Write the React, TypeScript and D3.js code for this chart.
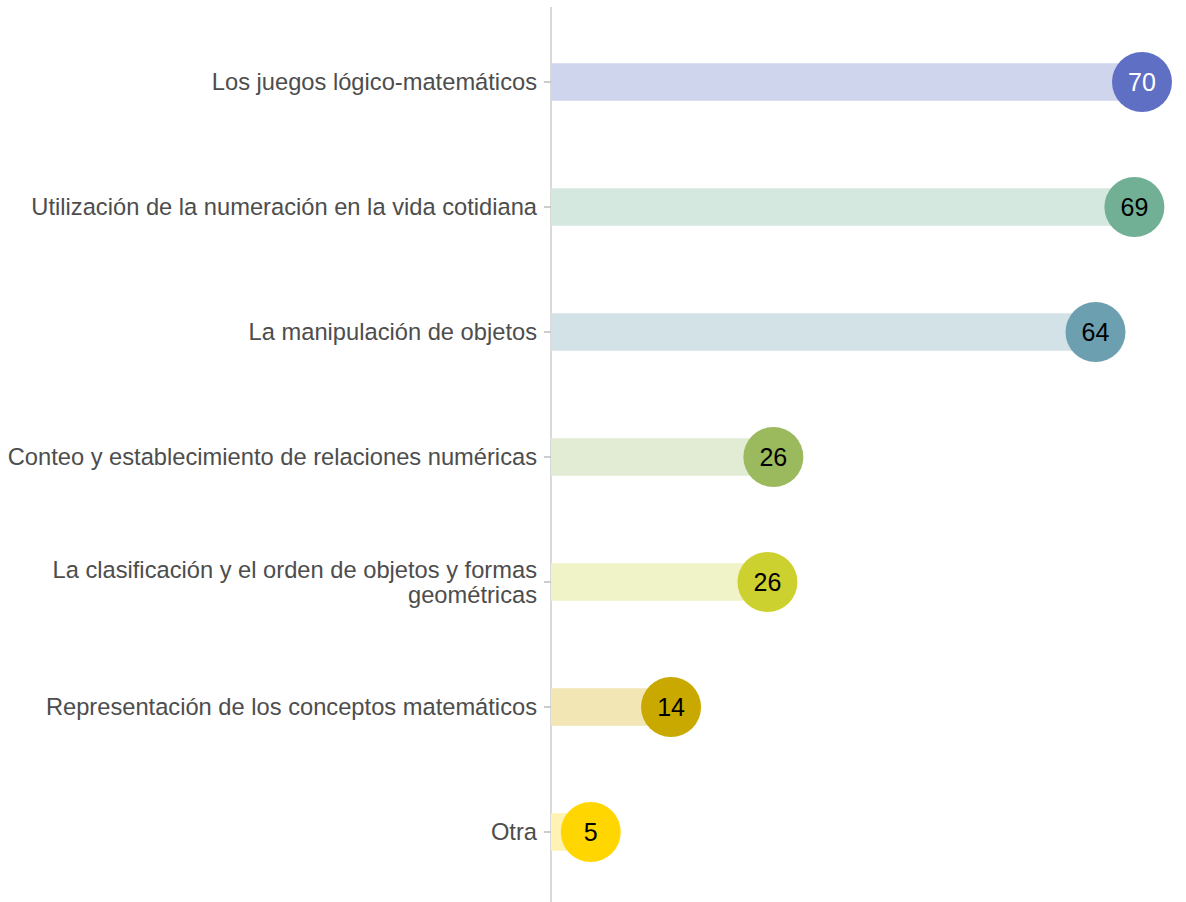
import React from 'react';
import * as d3 from 'd3';

const categories = [
  'Los juegos lógico-matemáticos',
  'Utilización de la numeración en la vida cotidiana',
  'La manipulación de objetos',
  'Conteo y establecimiento de relaciones numéricas',
  'La clasificación y el orden de objetos y formas geométricas',
  'Representación de los conceptos matemáticos',
  'Otra',
];
const values = [69.9, 69.0, 64.4, 26.3, 25.6, 14.2, 4.7];
const dotColors = ['#5f6fc4', '#72b095', '#6c9fb0', '#9bb95d', '#cdd12f', '#c9a800', '#ffd600'];
const barColors = ['#d0d5ee', '#d5e8e0', '#d3e2e7', '#e2ebd3', '#f0f3c8', '#f1e6b4', '#fff3b4'];
const labelColors = ['#ffffff', '#000000', '#000000', '#000000', '#000000', '#000000', '#000000'];
// wrapped category labels
const labelLines = [
  ['Los juegos lógico-matemáticos'],
  ['Utilización de la numeración en la vida cotidiana'],
  ['La manipulación de objetos'],
  ['Conteo y establecimiento de relaciones numéricas'],
  ['La clasificación y el orden de objetos y formas', 'geométricas'],
  ['Representación de los conceptos matemáticos'],
  ['Otra'],
];

const W = 1186;
const H = 902;
const font = '"Liberation Sans", Arial, sans-serif';

export default function App() {
  const x = d3.scaleLinear().domain([0, 70]).range([551, 551 + 70 * 8.455]);
  const y = d3.scalePoint<string>().domain(categories).range([7, 907]).padding(0.6);
  const barH = 37.5;
  const r = 30;

  return (
    <svg width={W} height={H} style={{ position: 'absolute', left: 0, top: 0, background: '#fff' }}>
      <line x1={x(0)} x2={x(0)} y1={7} y2={907} stroke="#cccccc" strokeWidth={1.5} />
      {categories.map((c, i) => {
        const cy = y(c)!;
        const lines = labelLines[i];
        const lh = 25;
        return (
          <g key={c}>
            <rect x={x(0)} y={cy - barH / 2} width={x(values[i]) - x(0)} height={barH} fill={barColors[i]} />
            <line x1={x(0) - 7} x2={x(0)} y1={cy} y2={cy} stroke="#bdbdbd" strokeWidth={1.5} />
            <text
              x={x(0) - 14}
              y={cy - ((lines.length - 1) * lh) / 2}
              textAnchor="end"
              dominantBaseline="central"
              fontFamily={font}
              fontSize={23.7}
              fill="#4d4d4d"
            >
              {lines.map((l, j) => (
                <tspan key={j} x={x(0) - 14} dy={j === 0 ? 0 : lh}>
                  {l}
                </tspan>
              ))}
            </text>
            <circle cx={x(values[i])} cy={cy} r={r} fill={dotColors[i]} />
            <text
              x={x(values[i])}
              y={cy}
              textAnchor="middle"
              dominantBaseline="central"
              fontFamily={font}
              fontSize={25}
              fill={labelColors[i]}
            >
              {Math.round(values[i])}
            </text>
          </g>
        );
      })}
    </svg>
  );
}
